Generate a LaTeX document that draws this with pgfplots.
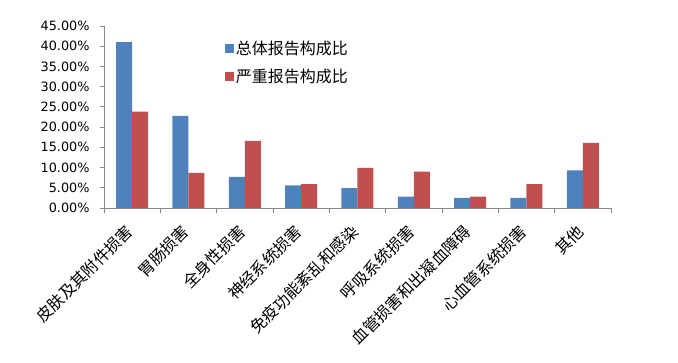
\documentclass[border=0pt]{standalone}
\usepackage{pgfplots}
\pgfplotsset{compat=1.18}
\usepackage{fontspec}
\setmainfont{DejaVu Sans}
\newfontfamily\cjk{Noto Sans CJK SC}
\definecolor{cblue}{HTML}{4F81BD}
\definecolor{cred}{HTML}{C0504D}
\definecolor{axgray}{HTML}{868686}
\newcommand{\legtxt}[1]{{\cjk\fontsize{16}{18}\selectfont #1}}
\begin{document}
\begin{tikzpicture}
\path[use as bounding box] (-104pt,-155pt) rectangle (574pt,208pt);
\begin{axis}[
  at={(0,0)}, anchor=south west,
  scale only axis,
  width=507pt, height=182pt,
  ybar=0pt, bar width=16pt,
  xmin=-0.5, xmax=8.5,
  ymin=0, ymax=45,
  ytick={0,5,...,45},
  yticklabel={\pgfmathprintnumber[fixed,fixed zerofill,precision=2,assume math mode=true]{\tick}\%},
  yticklabel style={font=\fontsize{12.8}{14}\selectfont, xshift=-7pt},
  xtick={0,...,8},
  xticklabels={皮肤及其附件损害,胃肠损害,全身性损害,神经系统损害,免疫功能紊乱和感染,呼吸系统损害,血管损害和出凝血障碍,心血管系统损害,其他},
  xticklabel style={font=\cjk\fontsize{16}{18}\selectfont, xshift=0pt, yshift=-14pt, rotate=45, anchor=east},
  major x tick style={draw=none},
  minor xtick={-0.5,0.5,...,8.5},
  tick align=outside,
  major tick length=4pt, minor tick length=5pt,
  tick style={axgray, line width=0.8pt},
  axis x line*=bottom, axis y line*=left,
  axis line style={axgray, line width=0.8pt},
  legend style={draw=none, fill=none, at={(0.232,0.94)}, anchor=north west,
    row sep=9pt, legend cell align=left},
  legend image code/.code={\fill[#1] (-3pt,-4.5pt) rectangle (6pt,4.5pt);},
]
\addplot[fill=cblue, draw=none] coordinates {(0,41.0) (1,22.8) (2,7.7) (3,5.6) (4,4.9) (5,2.8) (6,2.5) (7,2.5) (8,9.3)};
\addplot[fill=cred, draw=none] coordinates {(0,23.8) (1,8.7) (2,16.6) (3,5.9) (4,9.9) (5,9.0) (6,2.8) (7,5.9) (8,16.1)};
\legend{\legtxt{总体报告构成比},\legtxt{严重报告构成比}}
\end{axis}
\end{tikzpicture}
\end{document}
